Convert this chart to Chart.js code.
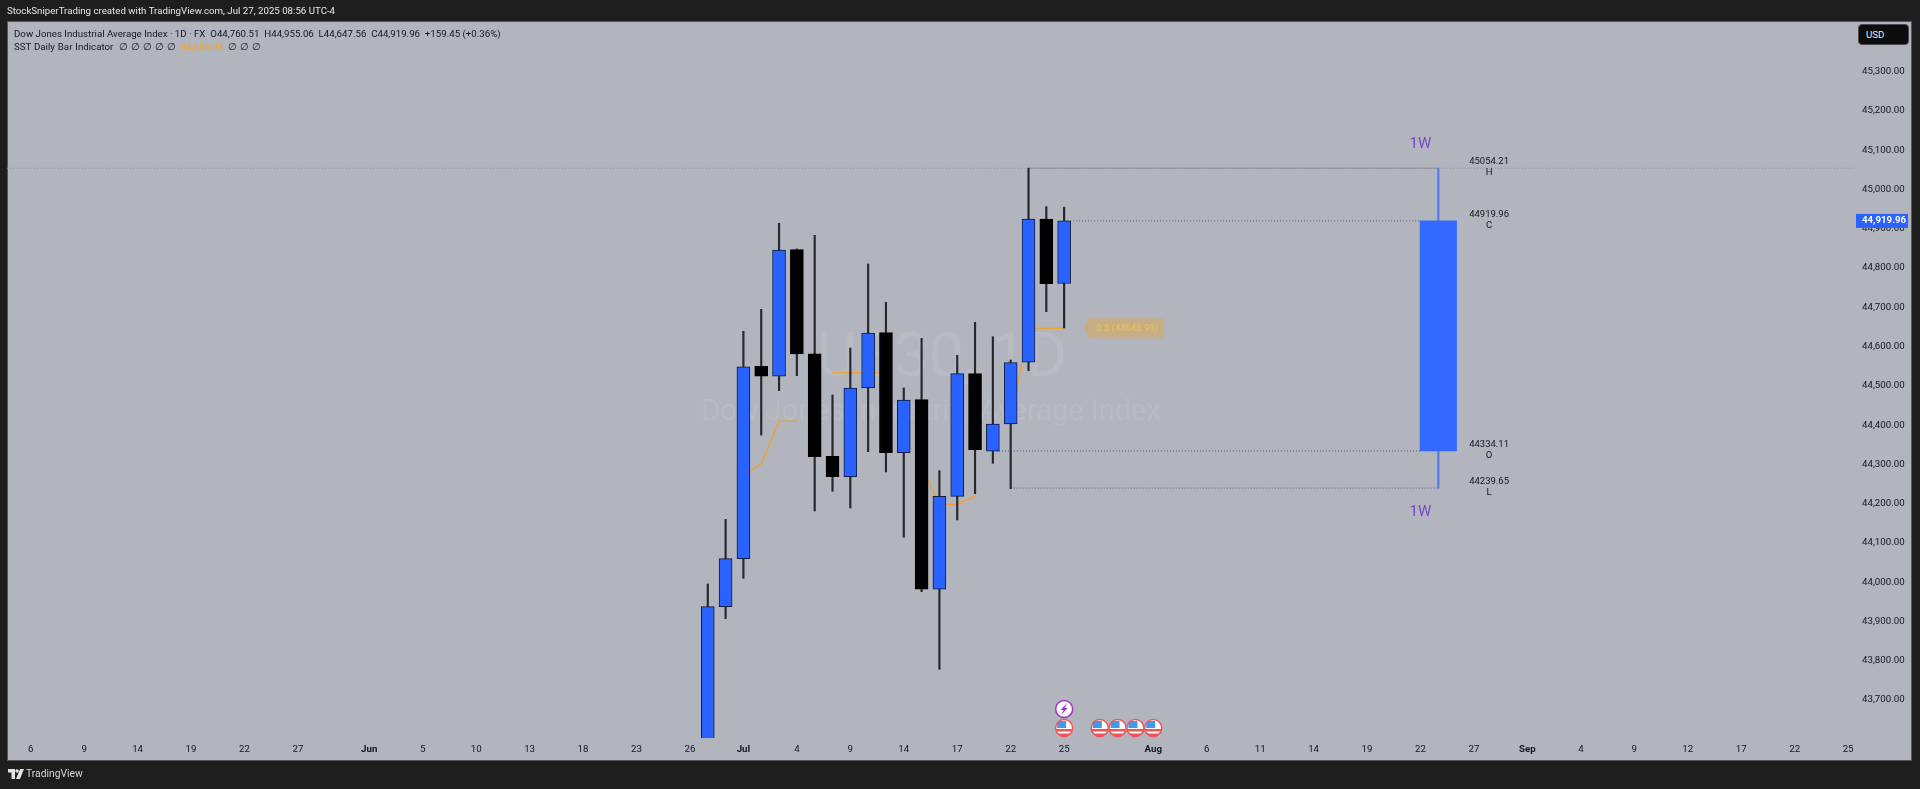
<!DOCTYPE html>
<html>
<head>
<meta charset="utf-8">
<script src="https://cdn.jsdelivr.net/npm/chart.js@4/dist/chart.umd.min.js"></script>
<style>
  html, body { margin: 0; padding: 0; width: 1920px; height: 789px; overflow: hidden; background: #1e1e1e; font-family: Roboto, sans-serif; }
  #panel { position: absolute; left: 7px; top: 21px; width: 1903px; height: 738px; background: #b2b5be; border: 1px solid #55575d; }
  #chart { position: absolute; left: 0; top: 0; }
  .txt { position: absolute; white-space: pre; font-size: 9.7px; line-height: 14px; }
  #credit { left: 7px; top: 4px; color: #e8e8e8; }
  #legend1 { left: 14px; top: 27px; color: #131722; }
  #legend2 { left: 14px; top: 40px; color: #131722; word-spacing: 0.5px; }
  #legend2 b { font-weight: 400; color: #f7a61f; margin: 0 2px; }
  #usd { position: absolute; left: 1858px; top: 24px; width: 51px; height: 21px; box-sizing: border-box; background: #0c0c0c; border: 1px solid #4a4a4f; border-radius: 4px; color: #eee; font-size: 9.7px; line-height: 19px; padding-left: 7px; }
  #logo { position: absolute; left: 8px; top: 769px; }
  #brand { left: 26px; top: 767px; color: #d8d8d8; font-size: 10.3px; }
</style>
</head>
<body>
<div id="panel"></div>
<canvas id="chart" width="1920" height="789"></canvas>
<div class="txt" id="credit">StockSniperTrading created with TradingView.com, Jul 27, 2025 08:56 UTC-4</div>
<div class="txt" id="legend1">Dow Jones Industrial Average Index · 1D · FX  O44,760.51  H44,955.06  L44,647.56  C44,919.96  +159.45 (+0.36%)</div>
<div class="txt" id="legend2">SST Daily Bar Indicator  ∅ ∅ ∅ ∅ ∅ <b>44,646.93</b> ∅ ∅ ∅</div>
<div id="usd">USD</div>
<svg id="logo" width="16" height="10" viewBox="0 0 16 10"><path fill="#e4e4e4" d="M0 0h7v10H3.5V3.5H0z"/><circle cx="9" cy="2" r="1.7" fill="#e4e4e4"/><path fill="#e4e4e4" d="M12 0h4l-4 10H8z"/></svg>
<div class="txt" id="brand">TradingView</div>

<script>
const FONT = "Roboto, sans-serif";

// daily candles, x is the bar number on the time axis
const barIdx = [38, 39, 40, 41, 42, 43, 44, 45, 46, 47, 48, 49, 50, 51, 52, 53, 54, 55, 56, 57, 58];
const opens = [43500, 43937.6, 44059.8, 44549.7, 44524.3, 44846.7, 44581.8, 44320.6, 44268.6, 44494.5, 44635.3, 44329.7, 44464.7, 43981.9, 44218.7, 44530.9, 44333.3, 44402.8, 44560, 44924.9, 44760.51];
const highs = [43995.4, 44160, 44638.9, 44694.9, 44913.9, 44848.5, 44883.3, 44476.7, 44596.4, 44810.3, 44712.7, 44494.5, 44621, 44283.9, 44577.8, 44661.8, 44625.1, 44565.8, 45054.21, 44956.2, 44955.06];
const lows = [43450, 43907, 44009.9, 44374.8, 44487.6, 44525.8, 44181.3, 44231.4, 44188.9, 44332.3, 44280.6, 44114.3, 43975.8, 43778.2, 44158.4, 44225.3, 44302.8, 44238, 44538.6, 44688.8, 44647.56];
const closes = [43937.6, 44059.8, 44548.7, 44524.3, 44845.9, 44581, 44319.6, 44268.6, 44494.5, 44634.6, 44329.7, 44463.9, 43981.9, 44218.7, 44530.9, 44337.4, 44402.8, 44558.9, 44924.9, 44760.1, 44919.96];

// SST indicator line, null where it breaks
const sstIdx = [40, 41, 42, 43, 44, 45, 46, 47, 48, 49, 50, 51, 52, 53, 54, 55, 56, 57, 58];
const sstVals = [44273, 44301, 44410, 44410, null, 44533, 44533, 44533, 44533, null, 44292.6, 44198.4, 44198.4, 44218.7, null, 44410, 44646.93, 44646.93, 44646.93];

// weekly candle projected to the right
const weekIdx = 79;
const weekOpen = 44334.11;
const weekHigh = 45054.21;
const weekLow = 44239.65;
const weekClose = 44919.96;
const weekLabelIdx = 81.85;
const weekTagIdx = 78;
const midLevel = 44646.93;

// dotted levels, start bar / end bar
const highLineBars = [56, 79];
const closeLineBars = [58, 78];
const openLineBars = [54, 78];
const lowLineBars = [55, 79];
const fullLineBars = [-1.33, 102.33];

// axes
const priceTicks = [43700, 43800, 43900, 44000, 44100, 44200, 44300, 44400, 44500, 44600, 44700, 44800, 44900, 45000, 45100, 45200, 45300];
const timeTicks = [0, 3, 6, 9, 12, 15, 19, 22, 25, 28, 31, 34, 37, 40, 43, 46, 49, 52, 55, 58, 63, 66, 69, 72, 75, 78, 81, 84, 87, 90, 93, 96, 99, 102];
const timeLabels = ["6", "9", "14", "19", "22", "27", "Jun", "5", "10", "13", "18", "23", "26", "Jul", "4", "9", "14", "17", "22", "25", "Aug", "6", "11", "14", "19", "22", "27", "Sep", "4", "9", "12", "17", "22", "25"];
const monthLabels = ["Jun", "Jul", "Aug", "Sep"];

// events under the candles
const flagBars = [58, 60, 61, 62, 63];
const boltBars = [58];

const BLUE = "#2962ff";
const upFlags = barIdx.map((b, i) => closes[i] >= opens[i]);

function levelLine(bars, value, color, order) {
  return {
    type: "line",
    data: bars.map(b => ({ x: b, y: value })),
    borderColor: color,
    borderWidth: 1,
    borderDash: [1, 2],
    pointRadius: 0,
    order: order
  };
}

// watermark sits under the candles
const watermark = {
  id: "watermark",
  beforeDatasetsDraw(chart) {
    const c = chart.ctx;
    c.save();
    c.fillStyle = "#b8bbc4";
    c.textAlign = "center";
    c.textBaseline = "middle";
    c.font = "62px " + FONT;
    c.fillText("US30, 1D", 942, 360);
    c.font = "29px " + FONT;
    c.fillText("Dow Jones Industrial Average Index", 931, 413);
    c.restore();
  }
};

function drawFlag(c, x, y) {
  c.beginPath(); c.arc(x, y, 8.5, 0, Math.PI * 2);
  c.fillStyle = "#ffffff"; c.fill();
  c.save(); c.clip();
  c.fillStyle = "#f0535a";
  c.fillRect(x - 9, y + 1, 18, 2.5);
  c.fillRect(x - 9, y + 5.5, 18, 4);
  c.fillStyle = "#3f9be8";
  c.fillRect(x - 7, y - 7, 9, 7);
  c.restore();
  c.beginPath(); c.arc(x, y, 8.5, 0, Math.PI * 2);
  c.strokeStyle = "#f0535a"; c.lineWidth = 1.5; c.stroke();
}

function drawBolt(c, x, y) {
  c.beginPath(); c.arc(x, y, 8.5, 0, Math.PI * 2);
  c.fillStyle = "#ffffff"; c.fill();
  c.strokeStyle = "#a32fc0"; c.lineWidth = 1.5; c.stroke();
  c.beginPath();
  c.moveTo(x + 3, y - 6); c.lineTo(x - 3.5, y + 1); c.lineTo(x - 0.5, y + 1);
  c.lineTo(x - 3, y + 6); c.lineTo(x + 3.5, y - 1); c.lineTo(x + 0.5, y - 1);
  c.closePath();
  c.fillStyle = "#a32fc0"; c.fill();
}

// week labels, the 0.5 callout, event icons and the last price tag
const annotations = {
  id: "annotations",
  afterDatasetsDraw(chart) {
    const c = chart.ctx;
    const xs = chart.scales.x;
    const ys = chart.scales.y;
    c.save();
    c.textAlign = "center";
    c.textBaseline = "middle";

    c.font = "15px " + FONT;
    c.fillStyle = "#7646c8";
    c.fillText("1W", xs.getPixelForValue(weekTagIdx), ys.getPixelForValue(weekHigh) - 24);
    c.fillText("1W", xs.getPixelForValue(weekTagIdx), ys.getPixelForValue(weekLow) + 24);

    c.font = "9.5px " + FONT;
    c.fillStyle = "#131722";
    [[weekHigh, "H"], [weekClose, "C"], [weekOpen, "O"], [weekLow, "L"]].forEach(([v, name]) => {
      const x = xs.getPixelForValue(weekLabelIdx);
      const y = ys.getPixelForValue(v);
      c.fillText(v.toFixed(2), x, y - 6.5);
      c.fillText(name, x, y + 4.5);
    });

    // 0.5 callout, pointing at the midpoint level
    const tipX = xs.getPixelForValue(58) + 19;
    const tipY = ys.getPixelForValue(midLevel);
    c.fillStyle = "#c8ae87";
    c.beginPath();
    c.moveTo(tipX, tipY);
    c.lineTo(tipX + 6, tipY - 10);
    c.lineTo(tipX + 81, tipY - 10);
    c.lineTo(tipX + 81, tipY + 10);
    c.lineTo(tipX + 6, tipY + 10);
    c.closePath();
    c.fill();
    c.fillStyle = "#e3c55c";
    c.fillText("0.5 (" + midLevel.toFixed(2) + ")", tipX + 44, tipY);

    flagBars.forEach(b => drawFlag(c, xs.getPixelForValue(b), 728));
    boltBars.forEach(b => drawBolt(c, xs.getPixelForValue(b), 709));
    c.restore();
  },
  afterDraw(chart) {
    const c = chart.ctx;
    const y = chart.scales.y.getPixelForValue(weekClose);
    c.save();
    c.fillStyle = BLUE;
    c.fillRect(1856, y - 7, 52, 14);
    c.fillStyle = "#ffffff";
    c.font = "bold 9.7px " + FONT;
    c.textAlign = "left";
    c.textBaseline = "middle";
    c.fillText(weekClose.toLocaleString("en-US", { minimumFractionDigits: 2 }), 1862, y);
    c.restore();
  }
};

new Chart(document.getElementById("chart").getContext("2d"), {
  type: "bar",
  plugins: [watermark, annotations],
  data: {
    datasets: [
      // indicator and levels behind the candles
      {
        type: "line",
        data: sstIdx.map((b, i) => ({ x: b, y: sstVals[i] })),
        borderColor: "#eda33a",
        borderWidth: 1.5,
        pointRadius: 0,
        spanGaps: false,
        order: 6
      },
      levelLine(fullLineBars, weekHigh, "#8b90a6", 7),
      levelLine(highLineBars, weekHigh, "#555a68", 5),
      levelLine(closeLineBars, weekClose, "#555a68", 5),
      levelLine(openLineBars, weekOpen, "#555a68", 5),
      levelLine(lowLineBars, weekLow, "#555a68", 5),
      // wicks
      {
        data: barIdx.map((b, i) => ({ x: b, y: [lows[i], highs[i]] })),
        backgroundColor: "#26282e",
        barThickness: 1.5,
        order: 3
      },
      // bodies
      {
        data: barIdx.map((b, i) => ({ x: b, y: [opens[i], closes[i]] })),
        backgroundColor: upFlags.map(up => up ? BLUE : "#000000"),
        borderColor: upFlags.map(up => up ? "#0f1c40" : "#000000"),
        borderWidth: 1,
        borderSkipped: false,
        barThickness: 13,
        order: 2
      },
      // weekly candle
      {
        data: [{ x: weekIdx, y: [weekLow, weekHigh] }],
        backgroundColor: "#4a7bf0",
        barThickness: 1.5,
        order: 3
      },
      {
        data: [{ x: weekIdx, y: [weekOpen, weekClose] }],
        backgroundColor: "#3369ff",
        barThickness: 36.5,
        order: 2
      }
    ]
  },
  options: {
    responsive: false,
    animation: false,
    devicePixelRatio: 1,
    grouped: false,
    layout: { padding: { left: 7, top: 22, right: 8, bottom: 29 } },
    plugins: { legend: { display: false }, title: { display: false }, tooltip: { enabled: false } },
    scales: {
      x: {
        type: "linear",
        offset: false,
        min: -1.33,
        max: 102.33,
        grid: { display: false, drawTicks: false },
        border: { display: false },
        afterFit: s => { s.height = 22; },
        afterBuildTicks: s => { s.ticks = timeTicks.map(v => ({ value: v })); },
        ticks: {
          autoSkip: false,
          maxRotation: 0,
          padding: 6,
          color: "#131722",
          callback: v => timeLabels[timeTicks.indexOf(v)],
          font: ctx => ({
            size: 9.7,
            family: FONT,
            weight: monthLabels.includes(ctx.tick && ctx.tick.label) ? "bold" : "normal"
          })
        }
      },
      y: {
        position: "right",
        min: 43603.2,
        max: 45426.5,
        grid: { display: false, drawTicks: false },
        border: { display: false },
        afterFit: s => { s.width = 58; },
        afterBuildTicks: s => { s.ticks = priceTicks.map(v => ({ value: v })); },
        ticks: {
          autoSkip: false,
          padding: 8,
          color: "#131722",
          font: { size: 9.7, family: FONT },
          callback: v => v.toLocaleString("en-US", { minimumFractionDigits: 2 })
        }
      }
    }
  }
});
</script>
</body>
</html>
